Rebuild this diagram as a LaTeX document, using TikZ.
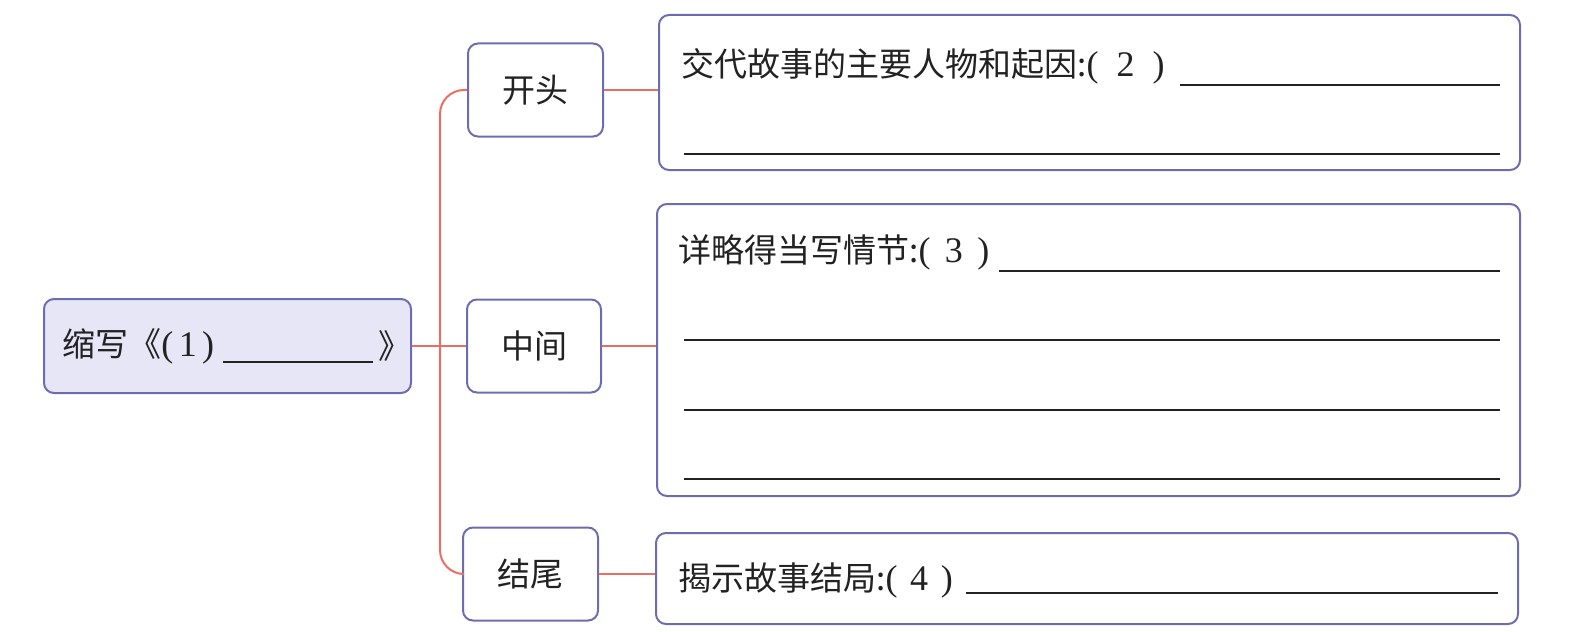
\documentclass[tikz,border=0pt]{standalone}
\usepackage{fontspec}
\newfontfamily\cjk{Noto Sans CJK SC}
\newfontfamily\sernum{Liberation Serif}
\definecolor{boxc}{HTML}{6E6CB0}
\definecolor{fillc}{HTML}{E6E6F6}
\definecolor{redc}{HTML}{EA6F62}
\definecolor{inkc}{HTML}{222222}
\newcommand{\pnum}[2]{{\sernum\fontsize{18pt}{20pt}\selectfont(\hspace{#1}#2\hspace{#1})}}
\begin{document}
\begin{tikzpicture}[x=0.5pt,y=-0.5pt,
  box/.style={draw=boxc, line width=1pt, rounded corners=5pt, inner sep=0pt, fill=white},
  mainbox/.style={box, fill=fillc},
  txt/.style={font=\cjk\fontsize{16.5pt}{20pt}\selectfont, text=inkc, inner sep=0pt},
  conn/.style={draw=redc, line width=1pt},
  blank/.style={draw=inkc, line width=0.7pt}
]
\useasboundingbox (0,0) rectangle (1582,631);

% boxes
\node[mainbox, minimum width=183.5pt, minimum height=47pt] (main) at (227.5,346) {};
\node[box, minimum width=67.5pt, minimum height=46.5pt, txt] (kt) at (535.5,90) {开头};
\node[box, minimum width=67pt, minimum height=46.5pt, txt] (zj) at (534,346) {中间};
\node[box, minimum width=67.5pt, minimum height=46.5pt, txt] (jw) at (530.5,574) {结尾};
\node[box, minimum width=430.5pt, minimum height=77.5pt] (b1) at (1089.5,92.5) {};
\node[box, minimum width=431.5pt, minimum height=146pt] (b2) at (1088.5,350) {};
\node[box, minimum width=431pt, minimum height=45.5pt] (b3) at (1087,578.5) {};

% connectors
\coordinate (J) at (440,346);
\draw[conn, rounded corners=12pt] (kt.west) -| (J) |- (jw.west);
\draw[conn] (main.east) -- (zj.west);
\draw[conn] (kt.east) -- (kt.east -| b1.west);
\draw[conn] (zj.east) -- (zj.east -| b2.west);
\draw[conn] (jw.east) -- (jw.east -| b3.west);

% main text
\node[txt, anchor=west] (mt) at (62,346) {缩写《\pnum{0.15em}{1}};
\draw[blank] (223,362) -- (373,362);
\node[txt, anchor=west] (mt2) at (378,346) {》};

% box 1
\node[txt, anchor=west] (t1) at (681,66) {交代故事的主要人物和起因:\pnum{0.5em}{2}};
\draw[blank] (1180,85) -- (1500,85);
\draw[blank] (684,154) -- (1500,154);

% box 2
\node[txt, anchor=west] (t2) at (678,252) {详略得当写情节:\pnum{0.4em}{3}};
\draw[blank] (999,271) -- (1500,271);
\draw[blank] (684,340) -- (1500,340);
\draw[blank] (684,410) -- (1500,410);
\draw[blank] (684,479) -- (1500,479);

% box 3
\node[txt, anchor=west] (t3) at (678,580) {揭示故事结局:\pnum{0.35em}{4}};
\draw[blank] (966,593) -- (1498,593);
\end{tikzpicture}
\end{document}
